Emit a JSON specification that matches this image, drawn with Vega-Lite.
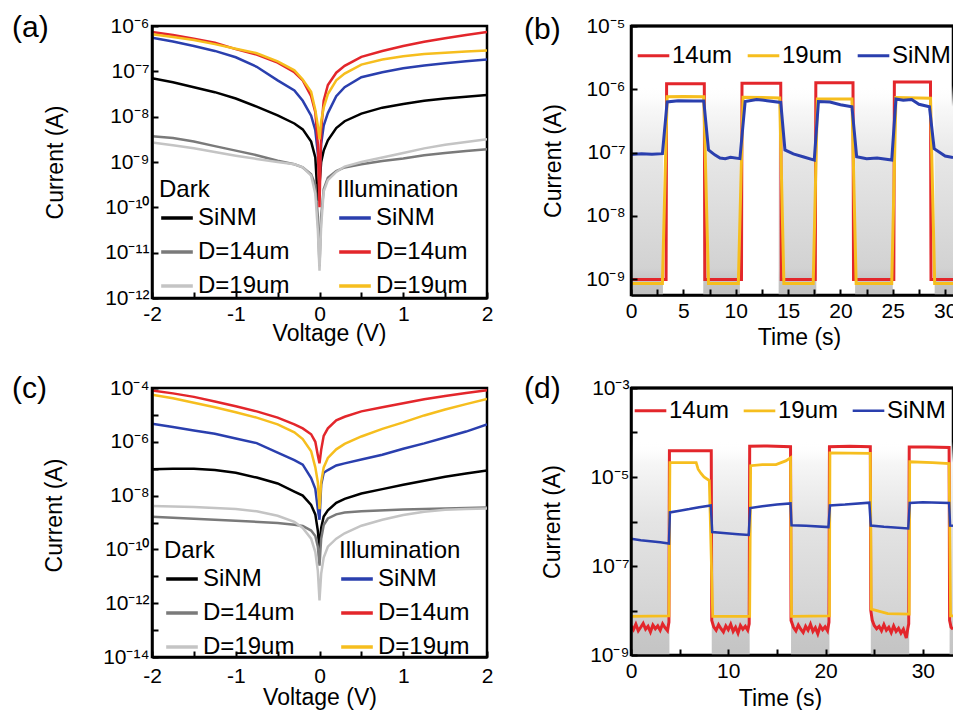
{
  "$schema": "https://vega.github.io/schema/vega-lite/v6.json",
  "background": "white",
  "padding": {"left": 10, "top": 11, "right": 0, "bottom": 0},
  "config": {
    "font": "Liberation Sans",
    "view": {"stroke": "black", "strokeWidth": 2.5},
    "axis": {"grid": false, "domainColor": "black", "domainWidth": 2.5, "tickColor": "black", "tickWidth": 2, "tickSize": -6, "labelFont": "Liberation Sans", "labelFontSize": 21, "labelColor": "black", "labelFlush": false, "labelOverlap": false, "titleFont": "Liberation Sans", "titleFontSize": 23, "titleFontWeight": "normal", "titleColor": "black"},
    "legend": {"labelFont": "Liberation Sans", "labelFontSize": 24, "labelColor": "black", "titleFont": "Liberation Sans", "titleFontSize": 24, "titleFontWeight": "normal", "titleColor": "black", "symbolType": "stroke", "symbolSize": 1000, "symbolStrokeWidth": 3.5, "labelOffset": 3, "rowPadding": 4, "columnPadding": 20, "padding": 0, "titlePadding": -2}
  },
  "resolve": {"scale": {"color": "independent", "strokeWidth": "independent"}, "legend": {"color": "independent", "strokeWidth": "independent"}},
  "datasets": {
    "aDark": [
      {"s":"SiNM","v":-2,"i":7.08e-8},{"s":"SiNM","v":-1.75,"i":5.75e-8},{"s":"SiNM","v":-1.5,"i":4.47e-8},{"s":"SiNM","v":-1.25,"i":3.47e-8},{"s":"SiNM","v":-1,"i":2.51e-8},{"s":"SiNM","v":-0.75,"i":1.66e-8},{"s":"SiNM","v":-0.5,"i":1.07e-8},{"s":"SiNM","v":-0.3,"i":7.08e-9},{"s":"SiNM","v":-0.2,"i":5.25e-9},{"s":"SiNM","v":-0.1,"i":2.82e-9},{"s":"SiNM","v":-0.05,"i":1.26e-9},{"s":"SiNM","v":-0.02,"i":1.41e-10},{"s":"SiNM","v":0,"i":3.16e-10},{"s":"SiNM","v":0.02,"i":1e-9},{"s":"SiNM","v":0.05,"i":1.78e-9},{"s":"SiNM","v":0.1,"i":3.02e-9},{"s":"SiNM","v":0.2,"i":5.62e-9},{"s":"SiNM","v":0.3,"i":7.94e-9},{"s":"SiNM","v":0.5,"i":1.17e-8},{"s":"SiNM","v":0.75,"i":1.58e-8},{"s":"SiNM","v":1,"i":1.91e-8},{"s":"SiNM","v":1.25,"i":2.24e-8},{"s":"SiNM","v":1.5,"i":2.51e-8},{"s":"SiNM","v":1.75,"i":2.75e-8},{"s":"SiNM","v":2,"i":3.02e-8},
      {"s":"D=14um","v":-2,"i":3.72e-9},{"s":"D=14um","v":-1.75,"i":3.39e-9},{"s":"D=14um","v":-1.5,"i":2.82e-9},{"s":"D=14um","v":-1.25,"i":2.24e-9},{"s":"D=14um","v":-1,"i":1.78e-9},{"s":"D=14um","v":-0.75,"i":1.41e-9},{"s":"D=14um","v":-0.5,"i":1.07e-9},{"s":"D=14um","v":-0.3,"i":8.91e-10},{"s":"D=14um","v":-0.2,"i":7.59e-10},{"s":"D=14um","v":-0.1,"i":5.37e-10},{"s":"D=14um","v":-0.05,"i":3.16e-10},{"s":"D=14um","v":-0.02,"i":6.31e-11},{"s":"D=14um","v":0,"i":5.01e-12},{"s":"D=14um","v":0.02,"i":6.31e-11},{"s":"D=14um","v":0.05,"i":2.51e-10},{"s":"D=14um","v":0.1,"i":4.47e-10},{"s":"D=14um","v":0.2,"i":6.31e-10},{"s":"D=14um","v":0.3,"i":7.59e-10},{"s":"D=14um","v":0.5,"i":8.91e-10},{"s":"D=14um","v":0.75,"i":1.05e-9},{"s":"D=14um","v":1,"i":1.2e-9},{"s":"D=14um","v":1.25,"i":1.41e-9},{"s":"D=14um","v":1.5,"i":1.58e-9},{"s":"D=14um","v":1.75,"i":1.74e-9},{"s":"D=14um","v":2,"i":1.91e-9},
      {"s":"D=19um","v":-2,"i":2.69e-9},{"s":"D=19um","v":-1.75,"i":2.34e-9},{"s":"D=19um","v":-1.5,"i":2.0e-9},{"s":"D=19um","v":-1.25,"i":1.66e-9},{"s":"D=19um","v":-1,"i":1.38e-9},{"s":"D=19um","v":-0.75,"i":1.17e-9},{"s":"D=19um","v":-0.5,"i":1e-9},{"s":"D=19um","v":-0.3,"i":8.91e-10},{"s":"D=19um","v":-0.2,"i":7.59e-10},{"s":"D=19um","v":-0.1,"i":5.01e-10},{"s":"D=19um","v":-0.05,"i":2.0e-10},{"s":"D=19um","v":-0.02,"i":3.16e-11},{"s":"D=19um","v":0,"i":3.98e-12},{"s":"D=19um","v":0.02,"i":3.98e-11},{"s":"D=19um","v":0.05,"i":2.24e-10},{"s":"D=19um","v":0.1,"i":3.98e-10},{"s":"D=19um","v":0.2,"i":6.03e-10},{"s":"D=19um","v":0.3,"i":7.94e-10},{"s":"D=19um","v":0.5,"i":1e-9},{"s":"D=19um","v":0.75,"i":1.26e-9},{"s":"D=19um","v":1,"i":1.58e-9},{"s":"D=19um","v":1.25,"i":2.0e-9},{"s":"D=19um","v":1.5,"i":2.4e-9},{"s":"D=19um","v":1.75,"i":2.75e-9},{"s":"D=19um","v":2,"i":3.16e-9}
    ],
    "aIll": [
      {"s":"SiNM","v":-2,"i":5.5e-7},{"s":"SiNM","v":-1.75,"i":4.57e-7},{"s":"SiNM","v":-1.5,"i":3.63e-7},{"s":"SiNM","v":-1.25,"i":2.82e-7},{"s":"SiNM","v":-1,"i":2.04e-7},{"s":"SiNM","v":-0.75,"i":1.26e-7},{"s":"SiNM","v":-0.5,"i":6.31e-8},{"s":"SiNM","v":-0.3,"i":3.8e-8},{"s":"SiNM","v":-0.2,"i":2.24e-8},{"s":"SiNM","v":-0.1,"i":1.05e-8},{"s":"SiNM","v":-0.05,"i":5.01e-9},{"s":"SiNM","v":-0.02,"i":1.58e-9},{"s":"SiNM","v":0,"i":4.47e-10},{"s":"SiNM","v":0.02,"i":2.51e-9},{"s":"SiNM","v":0.05,"i":6.31e-9},{"s":"SiNM","v":0.1,"i":1.2e-8},{"s":"SiNM","v":0.2,"i":2.82e-8},{"s":"SiNM","v":0.3,"i":4.47e-8},{"s":"SiNM","v":0.5,"i":7.41e-8},{"s":"SiNM","v":0.75,"i":9.55e-8},{"s":"SiNM","v":1,"i":1.17e-7},{"s":"SiNM","v":1.25,"i":1.35e-7},{"s":"SiNM","v":1.5,"i":1.51e-7},{"s":"SiNM","v":1.75,"i":1.66e-7},{"s":"SiNM","v":2,"i":1.82e-7},
      {"s":"D=14um","v":-2,"i":7.41e-7},{"s":"D=14um","v":-1.75,"i":6.31e-7},{"s":"D=14um","v":-1.5,"i":5.25e-7},{"s":"D=14um","v":-1.25,"i":4.27e-7},{"s":"D=14um","v":-1,"i":3.09e-7},{"s":"D=14um","v":-0.75,"i":2.34e-7},{"s":"D=14um","v":-0.5,"i":1.55e-7},{"s":"D=14um","v":-0.3,"i":9.55e-8},{"s":"D=14um","v":-0.2,"i":6.31e-8},{"s":"D=14um","v":-0.1,"i":2.82e-8},{"s":"D=14um","v":-0.05,"i":1.26e-8},{"s":"D=14um","v":-0.02,"i":2.51e-9},{"s":"D=14um","v":0,"i":1e-10},{"s":"D=14um","v":0.02,"i":5.01e-9},{"s":"D=14um","v":0.05,"i":2.24e-8},{"s":"D=14um","v":0.1,"i":5.01e-8},{"s":"D=14um","v":0.2,"i":9.33e-8},{"s":"D=14um","v":0.3,"i":1.32e-7},{"s":"D=14um","v":0.5,"i":2.09e-7},{"s":"D=14um","v":0.75,"i":2.82e-7},{"s":"D=14um","v":1,"i":3.63e-7},{"s":"D=14um","v":1.25,"i":4.47e-7},{"s":"D=14um","v":1.5,"i":5.37e-7},{"s":"D=14um","v":1.75,"i":6.31e-7},{"s":"D=14um","v":2,"i":7.41e-7},
      {"s":"D=19um","v":-2,"i":6.61e-7},{"s":"D=19um","v":-1.75,"i":5.75e-7},{"s":"D=19um","v":-1.5,"i":4.9e-7},{"s":"D=19um","v":-1.25,"i":3.98e-7},{"s":"D=19um","v":-1,"i":3.16e-7},{"s":"D=19um","v":-0.75,"i":2.51e-7},{"s":"D=19um","v":-0.5,"i":1.66e-7},{"s":"D=19um","v":-0.3,"i":1.05e-7},{"s":"D=19um","v":-0.2,"i":6.61e-8},{"s":"D=19um","v":-0.1,"i":3.55e-8},{"s":"D=19um","v":-0.05,"i":1.41e-8},{"s":"D=19um","v":-0.02,"i":6.31e-9},{"s":"D=19um","v":0,"i":3.16e-9},{"s":"D=19um","v":0.02,"i":7.94e-9},{"s":"D=19um","v":0.05,"i":1.58e-8},{"s":"D=19um","v":0.1,"i":3.16e-8},{"s":"D=19um","v":0.2,"i":6.31e-8},{"s":"D=19um","v":0.3,"i":8.91e-8},{"s":"D=19um","v":0.5,"i":1.41e-7},{"s":"D=19um","v":0.75,"i":1.82e-7},{"s":"D=19um","v":1,"i":2.14e-7},{"s":"D=19um","v":1.25,"i":2.4e-7},{"s":"D=19um","v":1.5,"i":2.57e-7},{"s":"D=19um","v":1.75,"i":2.75e-7},{"s":"D=19um","v":2,"i":2.88e-7}
    ],
    "cDark": [
      {"s":"SiNM","v":-2,"i":9.55e-8},{"s":"SiNM","v":-1.75,"i":1e-7},{"s":"SiNM","v":-1.5,"i":1e-7},{"s":"SiNM","v":-1.25,"i":8.91e-8},{"s":"SiNM","v":-1,"i":7.08e-8},{"s":"SiNM","v":-0.75,"i":4.68e-8},{"s":"SiNM","v":-0.5,"i":2.82e-8},{"s":"SiNM","v":-0.3,"i":1.41e-8},{"s":"SiNM","v":-0.2,"i":1e-8},{"s":"SiNM","v":-0.1,"i":4.47e-9},{"s":"SiNM","v":-0.05,"i":2e-9},{"s":"SiNM","v":-0.02,"i":5.01e-10},{"s":"SiNM","v":0,"i":1e-10},{"s":"SiNM","v":0.02,"i":6.31e-10},{"s":"SiNM","v":0.05,"i":1.66e-9},{"s":"SiNM","v":0.1,"i":2.82e-9},{"s":"SiNM","v":0.2,"i":5.37e-9},{"s":"SiNM","v":0.3,"i":7.59e-9},{"s":"SiNM","v":0.5,"i":1.2e-8},{"s":"SiNM","v":0.75,"i":1.74e-8},{"s":"SiNM","v":1,"i":2.51e-8},{"s":"SiNM","v":1.25,"i":3.55e-8},{"s":"SiNM","v":1.5,"i":5.01e-8},{"s":"SiNM","v":1.75,"i":6.61e-8},{"s":"SiNM","v":2,"i":8.51e-8},
      {"s":"D=14um","v":-2,"i":1.62e-9},{"s":"D=14um","v":-1.5,"i":1.38e-9},{"s":"D=14um","v":-1,"i":1.17e-9},{"s":"D=14um","v":-0.5,"i":9.55e-10},{"s":"D=14um","v":-0.3,"i":8.32e-10},{"s":"D=14um","v":-0.2,"i":7.41e-10},{"s":"D=14um","v":-0.1,"i":5.01e-10},{"s":"D=14um","v":-0.05,"i":3.16e-10},{"s":"D=14um","v":-0.02,"i":1.26e-10},{"s":"D=14um","v":0,"i":2.51e-11},{"s":"D=14um","v":0.02,"i":2.51e-10},{"s":"D=14um","v":0.05,"i":7.94e-10},{"s":"D=14um","v":0.1,"i":1.41e-9},{"s":"D=14um","v":0.2,"i":2e-9},{"s":"D=14um","v":0.3,"i":2.34e-9},{"s":"D=14um","v":0.5,"i":2.63e-9},{"s":"D=14um","v":1,"i":3.02e-9},{"s":"D=14um","v":1.5,"i":3.31e-9},{"s":"D=14um","v":2,"i":3.63e-9},
      {"s":"D=19um","v":-2,"i":4.07e-9},{"s":"D=19um","v":-1.5,"i":3.8e-9},{"s":"D=19um","v":-1,"i":3.16e-9},{"s":"D=19um","v":-0.75,"i":2.63e-9},{"s":"D=19um","v":-0.5,"i":1.78e-9},{"s":"D=19um","v":-0.3,"i":1.05e-9},{"s":"D=19um","v":-0.2,"i":6.31e-10},{"s":"D=19um","v":-0.1,"i":2.51e-10},{"s":"D=19um","v":-0.05,"i":7.94e-11},{"s":"D=19um","v":-0.02,"i":1.58e-11},{"s":"D=19um","v":0,"i":1.26e-12},{"s":"D=19um","v":0.02,"i":1.26e-11},{"s":"D=19um","v":0.05,"i":5.01e-11},{"s":"D=19um","v":0.1,"i":1.26e-10},{"s":"D=19um","v":0.2,"i":2.51e-10},{"s":"D=19um","v":0.3,"i":3.98e-10},{"s":"D=19um","v":0.5,"i":7.59e-10},{"s":"D=19um","v":0.75,"i":1.26e-9},{"s":"D=19um","v":1,"i":1.91e-9},{"s":"D=19um","v":1.25,"i":2.51e-9},{"s":"D=19um","v":1.5,"i":2.95e-9},{"s":"D=19um","v":1.75,"i":3.16e-9},{"s":"D=19um","v":2,"i":3.31e-9}
    ],
    "cIll": [
      {"s":"SiNM","v":-2,"i":4.68e-6},{"s":"SiNM","v":-1.75,"i":3.55e-6},{"s":"SiNM","v":-1.5,"i":2.63e-6},{"s":"SiNM","v":-1.25,"i":2e-6},{"s":"SiNM","v":-1,"i":1.32e-6},{"s":"SiNM","v":-0.75,"i":8.91e-7},{"s":"SiNM","v":-0.5,"i":3.98e-7},{"s":"SiNM","v":-0.3,"i":2.09e-7},{"s":"SiNM","v":-0.2,"i":1.41e-7},{"s":"SiNM","v":-0.1,"i":4.47e-8},{"s":"SiNM","v":-0.05,"i":1.78e-8},{"s":"SiNM","v":-0.02,"i":3.16e-9},{"s":"SiNM","v":0,"i":1.26e-9},{"s":"SiNM","v":0.02,"i":2.51e-8},{"s":"SiNM","v":0.05,"i":7.08e-8},{"s":"SiNM","v":0.1,"i":8.91e-8},{"s":"SiNM","v":0.2,"i":1.32e-7},{"s":"SiNM","v":0.3,"i":1.58e-7},{"s":"SiNM","v":0.5,"i":2.19e-7},{"s":"SiNM","v":0.75,"i":3.31e-7},{"s":"SiNM","v":1,"i":5.5e-7},{"s":"SiNM","v":1.25,"i":8.71e-7},{"s":"SiNM","v":1.5,"i":1.45e-6},{"s":"SiNM","v":1.75,"i":2.4e-6},{"s":"SiNM","v":2,"i":4.47e-6},
      {"s":"D=14um","v":-2,"i":8.13e-5},{"s":"D=14um","v":-1.75,"i":6.31e-5},{"s":"D=14um","v":-1.5,"i":4.68e-5},{"s":"D=14um","v":-1.25,"i":3.16e-5},{"s":"D=14um","v":-1,"i":2.09e-5},{"s":"D=14um","v":-0.75,"i":1.35e-5},{"s":"D=14um","v":-0.5,"i":7.94e-6},{"s":"D=14um","v":-0.3,"i":4.47e-6},{"s":"D=14um","v":-0.2,"i":3.16e-6},{"s":"D=14um","v":-0.1,"i":1.91e-6},{"s":"D=14um","v":-0.05,"i":1e-6},{"s":"D=14um","v":-0.02,"i":3.16e-7},{"s":"D=14um","v":0,"i":1.58e-7},{"s":"D=14um","v":0.02,"i":5.01e-7},{"s":"D=14um","v":0.05,"i":1.66e-6},{"s":"D=14um","v":0.1,"i":3.16e-6},{"s":"D=14um","v":0.2,"i":6.31e-6},{"s":"D=14um","v":0.3,"i":8.51e-6},{"s":"D=14um","v":0.5,"i":1.35e-5},{"s":"D=14um","v":0.75,"i":1.91e-5},{"s":"D=14um","v":1,"i":2.69e-5},{"s":"D=14um","v":1.25,"i":3.8e-5},{"s":"D=14um","v":1.5,"i":5.01e-5},{"s":"D=14um","v":1.75,"i":6.46e-5},{"s":"D=14um","v":2,"i":8.32e-5},
      {"s":"D=19um","v":-2,"i":5.62e-5},{"s":"D=19um","v":-1.75,"i":4.17e-5},{"s":"D=19um","v":-1.5,"i":2.82e-5},{"s":"D=19um","v":-1.25,"i":1.91e-5},{"s":"D=19um","v":-1,"i":1.26e-5},{"s":"D=19um","v":-0.75,"i":7.94e-6},{"s":"D=19um","v":-0.5,"i":4.47e-6},{"s":"D=19um","v":-0.3,"i":2.24e-6},{"s":"D=19um","v":-0.2,"i":1.26e-6},{"s":"D=19um","v":-0.1,"i":4.47e-7},{"s":"D=19um","v":-0.05,"i":1.12e-7},{"s":"D=19um","v":-0.02,"i":3.16e-8},{"s":"D=19um","v":0,"i":3.16e-9},{"s":"D=19um","v":0.02,"i":3.16e-8},{"s":"D=19um","v":0.05,"i":1.12e-7},{"s":"D=19um","v":0.1,"i":2.51e-7},{"s":"D=19um","v":0.2,"i":5.25e-7},{"s":"D=19um","v":0.3,"i":8.32e-7},{"s":"D=19um","v":0.5,"i":1.58e-6},{"s":"D=19um","v":0.75,"i":3.02e-6},{"s":"D=19um","v":1,"i":5.25e-6},{"s":"D=19um","v":1.25,"i":9.55e-6},{"s":"D=19um","v":1.5,"i":1.58e-5},{"s":"D=19um","v":1.75,"i":2.51e-5},{"s":"D=19um","v":2,"i":3.89e-5}
    ],
    "bBands": [{"t0":0,"t1":3.05},{"t0":6.9,"t1":10.4},{"t0":14.1,"t1":17.7},{"t0":21.4,"t1":25.0},{"t0":29.0,"t1":30.75}],
    "bLines": [
      {"s":"14um","t":0,"i":9.8e-10},{"s":"14um","t":3.35,"i":9.8e-10},{"s":"14um","t":3.4,"i":1.22e-6},{"s":"14um","t":7.0,"i":1.22e-6},{"s":"14um","t":7.05,"i":9.8e-10},{"s":"14um","t":10.55,"i":9.8e-10},{"s":"14um","t":10.6,"i":1.25e-6},{"s":"14um","t":14.3,"i":1.25e-6},{"s":"14um","t":14.35,"i":9.8e-10},{"s":"14um","t":17.6,"i":9.8e-10},{"s":"14um","t":17.65,"i":1.27e-6},{"s":"14um","t":21.2,"i":1.27e-6},{"s":"14um","t":21.25,"i":9.8e-10},{"s":"14um","t":25.1,"i":9.8e-10},{"s":"14um","t":25.15,"i":1.3e-6},{"s":"14um","t":28.6,"i":1.3e-6},{"s":"14um","t":28.65,"i":9.8e-10},{"s":"14um","t":30.75,"i":9.8e-10},
      {"s":"19um","t":0,"i":8.5e-10},{"s":"19um","t":3.0,"i":8.5e-10},{"s":"19um","t":3.45,"i":7.6e-7},{"s":"19um","t":5,"i":7.7e-7},{"s":"19um","t":6.95,"i":7.6e-7},{"s":"19um","t":7.4,"i":8.5e-10},{"s":"19um","t":10.25,"i":8.5e-10},{"s":"19um","t":10.7,"i":7.5e-7},{"s":"19um","t":14.2,"i":7.3e-7},{"s":"19um","t":14.6,"i":8.5e-10},{"s":"19um","t":17.4,"i":8.5e-10},{"s":"19um","t":17.8,"i":7e-7},{"s":"19um","t":21.1,"i":7e-7},{"s":"19um","t":21.5,"i":8.5e-10},{"s":"19um","t":24.9,"i":8.5e-10},{"s":"19um","t":25.3,"i":7.4e-7},{"s":"19um","t":28.6,"i":7.2e-7},{"s":"19um","t":29.0,"i":8.5e-10},{"s":"19um","t":30.75,"i":8.5e-10},
      {"s":"SiNM","t":0,"i":9.3e-8},{"s":"SiNM","t":1,"i":9.6e-8},{"s":"SiNM","t":2,"i":9.4e-8},{"s":"SiNM","t":3.0,"i":9.6e-8},{"s":"SiNM","t":3.45,"i":6.3e-7},{"s":"SiNM","t":4.5,"i":6.6e-7},{"s":"SiNM","t":6,"i":6.5e-7},{"s":"SiNM","t":6.95,"i":6.5e-7},{"s":"SiNM","t":7.4,"i":1.1e-7},{"s":"SiNM","t":8,"i":9.2e-8},{"s":"SiNM","t":8.5,"i":8.2e-8},{"s":"SiNM","t":9,"i":8e-8},{"s":"SiNM","t":9.5,"i":8.4e-8},{"s":"SiNM","t":10.4,"i":8e-8},{"s":"SiNM","t":10.9,"i":6.4e-7},{"s":"SiNM","t":12,"i":6.9e-7},{"s":"SiNM","t":13,"i":6.6e-7},{"s":"SiNM","t":14.3,"i":6.2e-7},{"s":"SiNM","t":14.7,"i":1.1e-7},{"s":"SiNM","t":15.5,"i":9.5e-8},{"s":"SiNM","t":16.5,"i":8.5e-8},{"s":"SiNM","t":17.5,"i":7.6e-8},{"s":"SiNM","t":17.9,"i":6.4e-7},{"s":"SiNM","t":19,"i":6.3e-7},{"s":"SiNM","t":20,"i":5.7e-7},{"s":"SiNM","t":21.1,"i":5.3e-7},{"s":"SiNM","t":21.55,"i":8.6e-8},{"s":"SiNM","t":22.5,"i":8e-8},{"s":"SiNM","t":23.5,"i":8.2e-8},{"s":"SiNM","t":24.9,"i":7.6e-8},{"s":"SiNM","t":25.3,"i":7e-7},{"s":"SiNM","t":26,"i":6.7e-7},{"s":"SiNM","t":26.8,"i":6.9e-7},{"s":"SiNM","t":27.5,"i":5.8e-7},{"s":"SiNM","t":28.5,"i":5.3e-7},{"s":"SiNM","t":28.95,"i":1.15e-7},{"s":"SiNM","t":30,"i":8.8e-8},{"s":"SiNM","t":30.75,"i":8.3e-8}
    ],
    "dBands": [{"t0":0,"t1":3.95},{"t0":8.3,"t1":12.2},{"t0":16.45,"t1":20.4},{"t0":24.65,"t1":28.6},{"t0":32.75,"t1":33.1}],
    "dLines": [
      {"s":"14um","t":0,"i":4.5e-9},{"s":"14um","t":0.25,"i":3.7e-9},{"s":"14um","t":0.5,"i":4.9e-9},{"s":"14um","t":0.75,"i":3.5e-9},{"s":"14um","t":1,"i":4.2e-9},{"s":"14um","t":1.25,"i":5.1e-9},{"s":"14um","t":1.5,"i":3.8e-9},{"s":"14um","t":1.75,"i":4.4e-9},{"s":"14um","t":2,"i":3.3e-9},{"s":"14um","t":2.25,"i":4.7e-9},{"s":"14um","t":2.5,"i":3.9e-9},{"s":"14um","t":2.75,"i":4.5e-9},{"s":"14um","t":3,"i":3.6e-9},{"s":"14um","t":3.25,"i":5.0e-9},{"s":"14um","t":3.5,"i":4.1e-9},{"s":"14um","t":3.75,"i":3.5e-9},{"s":"14um","t":3.9,"i":5.5e-9},{"s":"14um","t":3.95,"i":3.9e-5},{"s":"14um","t":8.25,"i":3.9e-5},
      {"s":"14um","t":8.3,"i":6.0e-9},{"s":"14um","t":8.5,"i":4.3e-9},{"s":"14um","t":8.75,"i":3.6e-9},{"s":"14um","t":9,"i":4.8e-9},{"s":"14um","t":9.25,"i":3.9e-9},{"s":"14um","t":9.5,"i":3.3e-9},{"s":"14um","t":9.75,"i":4.5e-9},{"s":"14um","t":10,"i":3.7e-9},{"s":"14um","t":10.25,"i":4.9e-9},{"s":"14um","t":10.5,"i":3.4e-9},{"s":"14um","t":10.75,"i":4.2e-9},{"s":"14um","t":11,"i":3.1e-9},{"s":"14um","t":11.25,"i":4.6e-9},{"s":"14um","t":11.5,"i":3.8e-9},{"s":"14um","t":11.75,"i":4.4e-9},{"s":"14um","t":12,"i":3.6e-9},{"s":"14um","t":12.15,"i":5.0e-9},{"s":"14um","t":12.2,"i":4.9e-5},{"s":"14um","t":14,"i":5.0e-5},{"s":"14um","t":16.4,"i":4.8e-5},
      {"s":"14um","t":16.45,"i":6.0e-9},{"s":"14um","t":16.7,"i":4.2e-9},{"s":"14um","t":16.95,"i":3.5e-9},{"s":"14um","t":17.2,"i":4.7e-9},{"s":"14um","t":17.45,"i":3.8e-9},{"s":"14um","t":17.7,"i":3.2e-9},{"s":"14um","t":17.95,"i":4.4e-9},{"s":"14um","t":18.2,"i":3.6e-9},{"s":"14um","t":18.45,"i":4.9e-9},{"s":"14um","t":18.7,"i":3.4e-9},{"s":"14um","t":18.95,"i":4.1e-9},{"s":"14um","t":19.2,"i":3.0e-9},{"s":"14um","t":19.45,"i":4.5e-9},{"s":"14um","t":19.7,"i":3.7e-9},{"s":"14um","t":19.95,"i":4.3e-9},{"s":"14um","t":20.2,"i":3.5e-9},{"s":"14um","t":20.35,"i":5.5e-9},{"s":"14um","t":20.4,"i":4.8e-5},{"s":"14um","t":22.5,"i":4.9e-5},{"s":"14um","t":24.6,"i":4.8e-5},
      {"s":"14um","t":24.65,"i":1.0e-8},{"s":"14um","t":24.8,"i":6.0e-9},{"s":"14um","t":25,"i":4.6e-9},{"s":"14um","t":25.25,"i":3.9e-9},{"s":"14um","t":25.5,"i":4.4e-9},{"s":"14um","t":25.75,"i":3.5e-9},{"s":"14um","t":26,"i":4.8e-9},{"s":"14um","t":26.25,"i":3.6e-9},{"s":"14um","t":26.5,"i":4.2e-9},{"s":"14um","t":26.75,"i":3.2e-9},{"s":"14um","t":27,"i":4.5e-9},{"s":"14um","t":27.25,"i":3.4e-9},{"s":"14um","t":27.5,"i":4.0e-9},{"s":"14um","t":27.75,"i":3.1e-9},{"s":"14um","t":28,"i":3.8e-9},{"s":"14um","t":28.3,"i":2.4e-9},{"s":"14um","t":28.45,"i":3.9e-9},{"s":"14um","t":28.55,"i":5.0e-9},{"s":"14um","t":28.6,"i":4.7e-5},{"s":"14um","t":30.5,"i":4.7e-5},{"s":"14um","t":32.7,"i":4.6e-5},
      {"s":"14um","t":32.75,"i":6.0e-9},{"s":"14um","t":32.9,"i":4.2e-9},{"s":"14um","t":33.1,"i":3.8e-9},
      {"s":"19um","t":0,"i":7.4e-9},{"s":"19um","t":3.9,"i":7.6e-9},{"s":"19um","t":4.0,"i":2.1e-5},{"s":"19um","t":6.7,"i":2.1e-5},{"s":"19um","t":6.9,"i":1.5e-5},{"s":"19um","t":7.2,"i":1.2e-5},{"s":"19um","t":7.5,"i":1e-5},{"s":"19um","t":8.05,"i":8.3e-6},{"s":"19um","t":8.4,"i":7.4e-9},{"s":"19um","t":12.2,"i":7.4e-9},{"s":"19um","t":12.3,"i":1.8e-5},{"s":"19um","t":13.5,"i":1.9e-5},{"s":"19um","t":14.9,"i":1.9e-5},{"s":"19um","t":15.9,"i":2.3e-5},{"s":"19um","t":16.4,"i":2.7e-5},{"s":"19um","t":16.5,"i":7.4e-9},{"s":"19um","t":20.4,"i":7.6e-9},{"s":"19um","t":20.45,"i":3.5e-5},{"s":"19um","t":24.6,"i":3.4e-5},{"s":"19um","t":24.7,"i":1.07e-8},{"s":"19um","t":26.4,"i":8.5e-9},{"s":"19um","t":28.6,"i":8.3e-9},{"s":"19um","t":28.65,"i":2.2e-5},{"s":"19um","t":31,"i":2.1e-5},{"s":"19um","t":32.7,"i":2.0e-5},{"s":"19um","t":32.85,"i":7.6e-9},{"s":"19um","t":33.1,"i":7.6e-9},
      {"s":"SiNM","t":0,"i":4.1e-7},{"s":"SiNM","t":1,"i":3.8e-7},{"s":"SiNM","t":2,"i":3.6e-7},{"s":"SiNM","t":3,"i":3.4e-7},{"s":"SiNM","t":3.9,"i":3.2e-7},{"s":"SiNM","t":4.0,"i":1.6e-6},{"s":"SiNM","t":5,"i":1.75e-6},{"s":"SiNM","t":6,"i":1.9e-6},{"s":"SiNM","t":7,"i":2.1e-6},{"s":"SiNM","t":8.2,"i":2.3e-6},{"s":"SiNM","t":8.35,"i":5.8e-7},{"s":"SiNM","t":9.5,"i":5.5e-7},{"s":"SiNM","t":11,"i":5.2e-7},{"s":"SiNM","t":12.1,"i":5e-7},{"s":"SiNM","t":12.25,"i":2e-6},{"s":"SiNM","t":13.5,"i":2.2e-6},{"s":"SiNM","t":15,"i":2.4e-6},{"s":"SiNM","t":16.4,"i":2.55e-6},{"s":"SiNM","t":16.5,"i":8.2e-7},{"s":"SiNM","t":18,"i":8e-7},{"s":"SiNM","t":20.3,"i":7.5e-7},{"s":"SiNM","t":20.45,"i":2.3e-6},{"s":"SiNM","t":22,"i":2.4e-6},{"s":"SiNM","t":24.5,"i":2.65e-6},{"s":"SiNM","t":24.65,"i":8.1e-7},{"s":"SiNM","t":26,"i":7.6e-7},{"s":"SiNM","t":28.5,"i":7e-7},{"s":"SiNM","t":28.65,"i":2.6e-6},{"s":"SiNM","t":30,"i":2.7e-6},{"s":"SiNM","t":32.7,"i":2.6e-6},{"s":"SiNM","t":32.8,"i":8.1e-7},{"s":"SiNM","t":33.1,"i":8e-7}
    ]
  },
  "columns": 2,
  "bounds": "flush",
  "spacing": {"column": 144, "row": 90},
  "concat": [
    {
      "width": 335, "height": 272,
      "title": {"text": "(a)", "anchor": "start", "frame": "group", "orient": "top", "offset": -51.5, "dx": -140, "baseline": "alphabetic", "fontSize": 30, "font": "Liberation Sans", "fontWeight": "normal", "color": "black"},
      "layer": [
        {"data": {"name": "aDark"}, "mark": {"type": "line", "strokeWidth": 2.5, "clip": true},
         "encoding": {
           "x": {"field": "v", "type": "quantitative", "scale": {"domain": [-2, 2], "nice": false}, "axis": {"zindex": 1, "title": "Voltage (V)", "values": [-2,-1.5,-1,-0.5,0,0.5,1,1.5,2], "labelExpr": "datum.value % 1 == 0 ? '' + datum.value : ''", "labelPadding": 11, "titleX": 177, "titleY": 42, "titleBaseline": "alphabetic"}},
           "y": {"field": "i", "type": "quantitative", "scale": {"type": "log", "domain": [1e-12, 1e-6], "nice": false}, "axis": {"zindex": 1, "title": "Current (A)", "values": [1e-12,1e-11,1e-10,1e-9,1e-8,1e-7,1e-6], "labelExpr": "'10⁻' + (round(-log(datum.value)/LN10) >= 10 ? '¹' : '') + substring('⁰¹²³⁴⁵⁶⁷⁸⁹', round(-log(datum.value)/LN10) % 10, round(-log(datum.value)/LN10) % 10 + 1)", "labelPadding": 9, "titleX": -90, "titleBaseline": "alphabetic"}},
           "color": {"field": "s", "type": "nominal", "scale": {"domain": ["SiNM","D=14um","D=19um"], "range": ["#000000","#7a7a7a","#c4c4c4"]}, "legend": {"title": "Dark", "orient": "none", "legendX": 7, "legendY": 152, "direction": "vertical"}}
         }},
        {"data": {"name": "aIll"}, "mark": {"type": "line", "strokeWidth": 2.5, "clip": true},
         "encoding": {
           "x": {"field": "v", "type": "quantitative", "scale": {"domain": [-2, 2], "nice": false}},
           "y": {"field": "i", "type": "quantitative", "scale": {"type": "log", "domain": [1e-12, 1e-6], "nice": false}},
           "color": {"field": "s", "type": "nominal", "scale": {"domain": ["SiNM","D=14um","D=19um"], "range": ["#2a3fae","#e3262b","#f6be1e"]}, "legend": {"title": "Illumination", "orient": "none", "legendX": 185, "legendY": 152, "direction": "vertical"}}
         }}
      ],
      "resolve": {"scale": {"color": "independent"}}
    },
    {
      "width": 322, "height": 269,
      "title": {"text": "(b)", "anchor": "start", "frame": "group", "orient": "top", "offset": -53.5, "dx": -107, "baseline": "alphabetic", "fontSize": 30, "font": "Liberation Sans", "fontWeight": "normal", "color": "black"},
      "layer": [
        {"data": {"name": "bBands"}, "mark": {"type": "rect", "fill": {"gradient": "linear", "x1": 0, "y1": 0, "x2": 0, "y2": 1, "stops": [{"offset": 0, "color": "rgba(255,255,255,0)"}, {"offset": 0.22, "color": "rgba(255,255,255,0)"}, {"offset": 0.3, "color": "#f8f8f8"}, {"offset": 0.5, "color": "#e6e6e6"}, {"offset": 0.9, "color": "#d2d2d2"}, {"offset": 0.94, "color": "#c6c6c6"}, {"offset": 1, "color": "#c0c0c0"}]}},
         "encoding": {
           "x": {"field": "t0", "type": "quantitative", "scale": {"domain": [0, 30.75], "nice": false}, "axis": null},
           "x2": {"field": "t1"}
         }},
        {"data": {"name": "bLines"}, "mark": {"type": "line", "clip": true},
         "encoding": {
           "x": {"field": "t", "type": "quantitative", "scale": {"domain": [0, 30.75], "nice": false}, "axis": {"zindex": 1, "orient": "bottom", "title": "Time (s)", "values": [0,2.5,5,7.5,10,12.5,15,17.5,20,22.5,25,27.5,30], "labelExpr": "datum.value % 5 == 0 ? '' + datum.value : ''", "labelPadding": 11, "titleX": 168, "titleY": 49, "titleBaseline": "alphabetic"}},
           "y": {"field": "i", "type": "quantitative", "scale": {"type": "log", "domain": [5.6e-10, 1e-5], "nice": false}, "axis": {"zindex": 1, "title": "Current (A)", "values": [1e-9,1e-8,1e-7,1e-6,1e-5], "labelExpr": "'10⁻' + (round(-log(datum.value)/LN10) >= 10 ? '¹' : '') + substring('⁰¹²³⁴⁵⁶⁷⁸⁹', round(-log(datum.value)/LN10) % 10, round(-log(datum.value)/LN10) % 10 + 1)", "labelPadding": 12, "titleX": -71, "titleBaseline": "alphabetic"}},
           "color": {"field": "s", "type": "nominal", "scale": {"domain": ["14um","19um","SiNM"], "range": ["#e3262b","#f6be1e","#2a3fae"]}, "legend": {"title": null, "orient": "none", "legendX": 5, "legendY": 12, "direction": "horizontal", "columnPadding": 8, "labelOffset": 1}},
           "strokeWidth": {"field": "s", "type": "nominal", "scale": {"domain": ["14um","19um","SiNM"], "range": [3, 3, 4.5]}, "legend": null}
         }},
        {"data": {"values": [{"edge": "top"}]}, "mark": {"type": "rule", "strokeWidth": 3, "color": "#000000"},
         "encoding": {
           "x": {"datum": 0, "type": "quantitative", "axis": null},
           "x2": {"datum": 30.75},
           "y": {"datum": 1e-5, "type": "quantitative"}
         }}
      ],
      "resolve": {"axis": {"x": "independent"}}
    },
    {
      "width": 335, "height": 269,
      "title": {"text": "(c)", "anchor": "start", "frame": "group", "orient": "top", "offset": -50.5, "dx": -140, "baseline": "alphabetic", "fontSize": 30, "font": "Liberation Sans", "fontWeight": "normal", "color": "black"},
      "layer": [
        {"data": {"name": "cDark"}, "mark": {"type": "line", "strokeWidth": 2.5, "clip": true},
         "encoding": {
           "x": {"field": "v", "type": "quantitative", "scale": {"domain": [-2, 2], "nice": false}, "axis": {"zindex": 1, "title": "Voltage (V)", "values": [-2,-1.5,-1,-0.5,0,0.5,1,1.5,2], "labelExpr": "datum.value % 1 == 0 ? '' + datum.value : ''", "labelPadding": 14, "titleY": 47, "titleBaseline": "alphabetic"}},
           "y": {"field": "i", "type": "quantitative", "scale": {"type": "log", "domain": [1e-14, 1e-4], "nice": false}, "axis": {"zindex": 1, "title": "Current (A)", "values": [1e-14,1e-13,1e-12,1e-11,1e-10,1e-9,1e-8,1e-7,1e-6,1e-5,1e-4], "labelExpr": "round(-log(datum.value)/LN10) % 2 == 1 ? '' : '10⁻' + (round(-log(datum.value)/LN10) >= 10 ? '¹' : '') + substring('⁰¹²³⁴⁵⁶⁷⁸⁹', round(-log(datum.value)/LN10) % 10, round(-log(datum.value)/LN10) % 10 + 1)", "labelPadding": 9, "titleX": -91, "titleY": 127, "titleBaseline": "alphabetic"}},
           "color": {"field": "s", "type": "nominal", "scale": {"domain": ["SiNM","D=14um","D=19um"], "range": ["#000000","#7a7a7a","#c4c4c4"]}, "legend": {"title": "Dark", "orient": "none", "legendX": 12, "legendY": 151, "direction": "vertical"}}
         }},
        {"data": {"name": "cIll"}, "mark": {"type": "line", "strokeWidth": 2.5, "clip": true},
         "encoding": {
           "x": {"field": "v", "type": "quantitative", "scale": {"domain": [-2, 2], "nice": false}},
           "y": {"field": "i", "type": "quantitative", "scale": {"type": "log", "domain": [1e-14, 1e-4], "nice": false}},
           "color": {"field": "s", "type": "nominal", "scale": {"domain": ["SiNM","D=14um","D=19um"], "range": ["#2a3fae","#e3262b","#f6be1e"]}, "legend": {"title": "Illumination", "orient": "none", "legendX": 187, "legendY": 151, "direction": "vertical"}}
         }}
      ],
      "resolve": {"scale": {"color": "independent"}}
    },
    {
      "width": 322, "height": 267,
      "title": {"text": "(d)", "anchor": "start", "frame": "group", "orient": "top", "offset": -51, "dx": -107, "baseline": "alphabetic", "fontSize": 30, "font": "Liberation Sans", "fontWeight": "normal", "color": "black"},
      "layer": [
        {"data": {"name": "dBands"}, "mark": {"type": "rect", "fill": {"gradient": "linear", "x1": 0, "y1": 0, "x2": 0, "y2": 1, "stops": [{"offset": 0, "color": "rgba(255,255,255,0)"}, {"offset": 0.2, "color": "rgba(255,255,255,0)"}, {"offset": 0.28, "color": "#f6f6f6"}, {"offset": 0.5, "color": "#e4e4e4"}, {"offset": 0.85, "color": "#d4d4d4"}, {"offset": 0.9, "color": "#c8c8c8"}, {"offset": 1, "color": "#c4c4c4"}]}},
         "encoding": {
           "x": {"field": "t0", "type": "quantitative", "scale": {"domain": [0, 33.1], "nice": false}, "axis": null},
           "x2": {"field": "t1"}
         }},
        {"data": {"name": "dLines"}, "mark": {"type": "line", "clip": true},
         "encoding": {
           "x": {"field": "t", "type": "quantitative", "scale": {"domain": [0, 33.1], "nice": false}, "axis": {"zindex": 1, "orient": "bottom", "title": "Time (s)", "values": [0,5,10,15,20,25,30], "labelExpr": "datum.value % 10 == 0 ? '' + datum.value : ''", "labelPadding": 11, "titleX": 149, "titleY": 50, "titleBaseline": "alphabetic"}},
           "y": {"field": "i", "type": "quantitative", "scale": {"type": "log", "domain": [1e-9, 1e-3], "nice": false}, "axis": {"zindex": 1, "title": "Current (A)", "values": [1e-9,1e-8,1e-7,1e-6,1e-5,1e-4,1e-3], "labelExpr": "round(-log(datum.value)/LN10) % 2 == 0 ? '' : '10⁻' + (round(-log(datum.value)/LN10) >= 10 ? '¹' : '') + substring('⁰¹²³⁴⁵⁶⁷⁸⁹', round(-log(datum.value)/LN10) % 10, round(-log(datum.value)/LN10) % 10 + 1)", "labelPadding": 8, "titleX": -72, "titleBaseline": "alphabetic"}},
           "color": {"field": "s", "type": "nominal", "scale": {"domain": ["14um","19um","SiNM"], "range": ["#e3262b","#f6be1e","#2a3fae"]}, "legend": {"title": null, "orient": "none", "legendX": 2, "legendY": 5, "direction": "horizontal", "columnPadding": 8, "labelOffset": 1}},
           "strokeWidth": {"field": "s", "type": "nominal", "scale": {"domain": ["14um","19um","SiNM"], "range": [3, 2.5, 3.5]}, "legend": null}
         }},
        {"data": {"values": [{"edge": "top"}]}, "mark": {"type": "rule", "strokeWidth": 3, "color": "#000000"},
         "encoding": {
           "x": {"datum": 0, "type": "quantitative", "axis": null},
           "x2": {"datum": 33.1},
           "y": {"datum": 1e-3, "type": "quantitative"}
         }}
      ],
      "resolve": {"axis": {"x": "independent"}}
    }
  ]
}
